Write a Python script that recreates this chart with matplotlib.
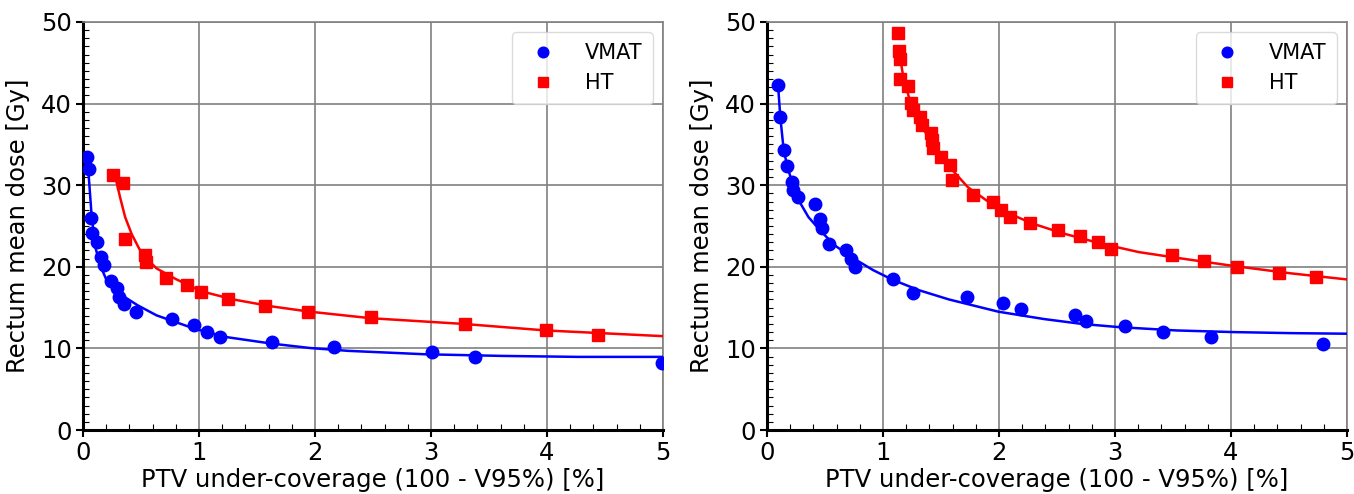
import matplotlib
matplotlib.use("Agg")
import matplotlib.pyplot as plt
from matplotlib.ticker import MultipleLocator

# Left panel - measured points
left_vmat_x = [0.033, 0.053, 0.073, 0.079, 0.119, 0.152, 0.178, 0.238, 0.297, 0.31, 0.35,
               0.459, 0.766, 0.958, 1.07, 1.18, 1.63, 2.16, 3.01, 3.38, 4.99]
left_vmat_y = [33.4, 32.0, 26.0, 24.1, 23.1, 21.2, 20.2, 18.2, 17.4, 16.3, 15.4,
               14.5, 13.6, 12.9, 12.05, 11.4, 10.75, 10.2, 9.57, 8.96, 8.27]
left_ht_x = [0.26, 0.343, 0.36, 0.535, 0.54, 0.713, 0.90, 1.02, 1.25, 1.57, 1.94, 2.48, 3.29, 3.99, 4.44]
left_ht_y = [31.3, 30.25, 23.4, 21.5, 20.6, 18.6, 17.8, 16.9, 16.0, 15.2, 14.5, 13.8, 13.0, 12.2, 11.6]

# Left panel - fitted curves
left_vmat_fit_x = [0.046, 0.073, 0.106, 0.155, 0.205, 0.304, 0.469, 0.634, 0.964, 1.23, 1.62,
                   1.955, 2.285, 2.95, 3.61, 4.27, 5.0]
left_vmat_fit_y = [31.8, 26.5, 22.4, 19.95, 18.3, 16.8, 15.3, 14.05, 12.4, 11.4, 10.6,
                   10.05, 9.7, 9.28, 9.08, 8.96, 8.96]
left_ht_fit_x = [0.287, 0.32, 0.363, 0.42, 0.485, 0.55, 0.634, 0.80, 1.02, 1.295, 1.625,
                 1.955, 2.48, 3.28, 3.99, 5.0]
left_ht_fit_y = [30.5, 28.5, 26.1, 24.0, 22.2, 21.0, 19.8, 18.5, 17.0, 16.0, 15.15,
                 14.5, 13.7, 13.0, 12.2, 11.5]

# Right panel - measured points
right_vmat_x = [0.095, 0.115, 0.144, 0.174, 0.216, 0.226, 0.265, 0.416, 0.455, 0.478, 0.534,
                0.678, 0.72, 0.756, 1.084, 1.257, 1.726, 2.037, 2.187, 2.656, 2.747, 3.09,
                3.41, 3.83, 4.79]
right_vmat_y = [42.3, 38.3, 34.3, 32.3, 30.4, 29.4, 28.5, 27.7, 25.85, 24.7, 22.85,
                22.0, 21.0, 20.0, 18.45, 16.75, 16.3, 15.6, 14.8, 14.1, 13.37, 12.7,
                11.95, 11.4, 10.5]
right_ht_x = [1.126, 1.136, 1.146, 1.149, 1.215, 1.241, 1.257, 1.323, 1.339, 1.411, 1.424,
              1.431, 1.496, 1.575, 1.595, 1.775, 1.945, 2.017, 2.092, 2.263, 2.508, 2.70,
              2.855, 2.967, 3.49, 3.77, 4.05, 4.41, 4.73]
right_ht_y = [48.6, 46.5, 45.5, 43.0, 42.1, 40.1, 39.2, 38.3, 37.4, 36.4, 35.5,
              34.6, 33.5, 32.5, 30.6, 28.8, 27.97, 27.0, 26.1, 25.4, 24.55, 23.74,
              23.05, 22.24, 21.4, 20.7, 20.0, 19.3, 18.7]

# Right panel - fitted curves
right_vmat_fit_x = [0.095, 0.115, 0.144, 0.177, 0.219, 0.275, 0.357, 0.455, 0.586, 0.75, 0.914,
                    1.077, 1.306, 1.568, 1.994, 2.387, 2.714, 3.04, 3.53, 4.02, 4.52, 5.0]
right_vmat_fit_y = [42.3, 38.3, 34.3, 32.2, 30.25, 28.1, 26.1, 24.5, 22.6, 21.0, 19.6,
                    18.45, 17.15, 16.0, 14.5, 13.6, 13.0, 12.6, 12.2, 12.0, 11.87, 11.8]
right_ht_fit_x = [1.143, 1.176, 1.225, 1.274, 1.339, 1.421, 1.503, 1.601, 1.732, 1.896, 2.092,
                  2.289, 2.551, 2.878, 3.206, 3.533, 4.024, 4.515, 5.0]
right_ht_fit_y = [46.0, 43.2, 40.7, 38.9, 37.1, 35.2, 33.6, 31.8, 29.75, 28.1, 26.5,
                  25.3, 24.1, 22.85, 21.8, 21.1, 20.1, 19.2, 18.45]

FS = 17.5

fig = plt.figure(figsize=(13.54, 4.94), dpi=100)
ax1 = fig.add_axes([83 / 1354, 64 / 494, 580 / 1354, 408 / 494])
ax2 = fig.add_axes([767 / 1354, 64 / 494, 580 / 1354, 408 / 494])

panels = [
    (ax1, left_vmat_x, left_vmat_y, left_ht_x, left_ht_y,
     left_vmat_fit_x, left_vmat_fit_y, left_ht_fit_x, left_ht_fit_y),
    (ax2, right_vmat_x, right_vmat_y, right_ht_x, right_ht_y,
     right_vmat_fit_x, right_vmat_fit_y, right_ht_fit_x, right_ht_fit_y),
]

for ax, vx, vy, hx, hy, vfx, vfy, hfx, hfy in panels:
    ax.plot(vfx, vfy, color='blue', lw=1.8, zorder=3)
    ax.plot(hfx, hfy, color='red', lw=1.8, zorder=3)
    ax.plot(vx, vy, 'o', color='blue', ms=9, label='VMAT', zorder=4)
    ax.plot(hx, hy, 's', color='red', ms=9, label='HT', zorder=4)

    ax.set_xlim(0, 5)
    ax.set_ylim(0, 50)
    ax.xaxis.set_major_locator(MultipleLocator(1))
    ax.xaxis.set_minor_locator(MultipleLocator(0.2))
    ax.yaxis.set_major_locator(MultipleLocator(10))
    ax.yaxis.set_minor_locator(MultipleLocator(1))
    ax.tick_params(which='major', direction='out', length=5, width=1.5, labelsize=FS, pad=3)
    ax.tick_params(which='minor', direction='in', length=4, width=0.8)

    ax.grid(True, which='major', color='gray', lw=1.2)
    ax.set_axisbelow(True)
    for side in ['left', 'bottom']:
        ax.spines[side].set_color('black')
        ax.spines[side].set_linewidth(2.2)
    for side in ['top', 'right']:
        ax.spines[side].set_color('gray')
        ax.spines[side].set_linewidth(1.2)

    # reference crops this label at the bottom edge; keep it just inside instead
    ax.set_xlabel('PTV under-coverage (100 - V95%) [%]', fontsize=FS, labelpad=2)
    ax.set_ylabel('Rectum mean dose [Gy]', fontsize=FS, labelpad=8)
    ax.legend(loc='upper right', fontsize=15, handletextpad=1.0, borderpad=0.5,
              markerscale=0.85, labelspacing=0.5, framealpha=0.8, edgecolor='lightgray')

fig.savefig('out.png', dpi=100)
